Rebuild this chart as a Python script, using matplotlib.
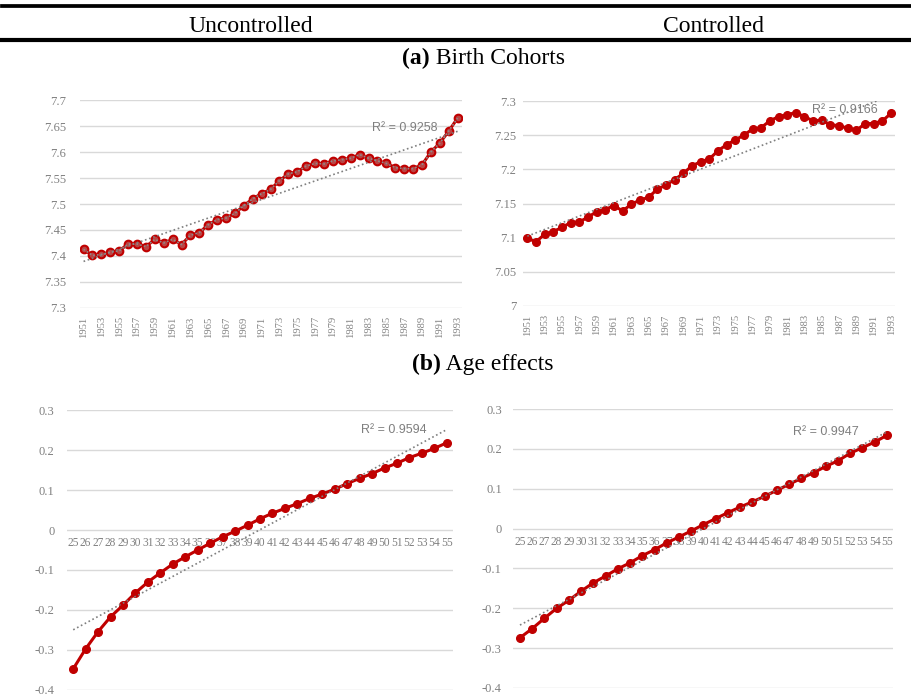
import matplotlib
matplotlib.use('Agg')
import matplotlib.pyplot as plt
import numpy as np
from matplotlib.lines import Line2D

# birth cohort effects
years = list(range(1951, 1994))
cohort_unc = [7.413, 7.401, 7.403, 7.407, 7.410, 7.423, 7.423, 7.418, 7.432, 7.425,
              7.432, 7.422, 7.440, 7.445, 7.460, 7.470, 7.473, 7.482, 7.497, 7.510,
              7.520, 7.528, 7.545, 7.558, 7.562, 7.573, 7.578, 7.577, 7.583, 7.585,
              7.588, 7.595, 7.588, 7.583, 7.578, 7.570, 7.568, 7.568, 7.575, 7.600,
              7.617, 7.640, 7.665]
cohort_con = [7.099, 7.094, 7.105, 7.109, 7.115, 7.122, 7.123, 7.130, 7.138, 7.141,
              7.147, 7.139, 7.149, 7.155, 7.159, 7.171, 7.177, 7.185, 7.194, 7.205,
              7.211, 7.215, 7.227, 7.236, 7.243, 7.250, 7.259, 7.261, 7.271, 7.277,
              7.280, 7.283, 7.277, 7.271, 7.272, 7.265, 7.264, 7.260, 7.257, 7.267,
              7.267, 7.271, 7.282]

# age effects
ages = list(range(25, 56))
age_unc = [-0.347, -0.297, -0.254, -0.217, -0.188, -0.157, -0.130, -0.107, -0.085, -0.067,
           -0.050, -0.033, -0.017, -0.003, 0.012, 0.028, 0.042, 0.054, 0.066, 0.079,
           0.090, 0.102, 0.116, 0.129, 0.141, 0.155, 0.167, 0.181, 0.192, 0.204, 0.218]
age_con = [-0.274, -0.251, -0.225, -0.200, -0.180, -0.157, -0.136, -0.119, -0.101, -0.086,
           -0.068, -0.053, -0.036, -0.021, -0.006, 0.010, 0.025, 0.040, 0.054, 0.067,
           0.081, 0.096, 0.111, 0.126, 0.140, 0.156, 0.170, 0.189, 0.203, 0.217, 0.234]

r2_labels = ['R² = 0.9258', 'R² = 0.9166', 'R² = 0.9594', 'R² = 0.9947']

W, H = 911, 698
fig = plt.figure(figsize=(W / 100, H / 100), dpi=100)

RED = '#C00000'
GRAY = '#808080'
SERIF = 'Liberation Serif'


def box(x0, y0, x1, y1):
    return [x0 / W, 1 - y1 / H, (x1 - x0) / W, (y1 - y0) / H]


def panel(rect, x, y, xlim, ylim, yticks, ylabels, ypad, r2, r2pos, years_axis, overlay=False):
    ax = fig.add_axes(box(*rect))
    x = np.array(x, dtype=float)
    y = np.array(y)
    # linear trend line
    k, b = np.polyfit(x, y, 1)
    ax.plot(x, k * x + b, color='#7f7f7f', lw=1.2, ls=(0, (1, 1.6)), zorder=4)
    if overlay:
        ax.plot(x, y, color=RED, lw=2.2, marker='o', ms=5.5, mfc='#b84545', mec=RED, mew=1.5, zorder=3)
        ax.plot(x, y, color='#8c8c8c', lw=1.2, ls=(0, (1, 1.3)), zorder=4)
    else:
        ax.plot(x, y, color=RED, lw=2.2, marker='o', ms=5.5, mfc=RED, mec=RED, zorder=3)
    ax.set_xlim(*xlim)
    ax.set_ylim(*ylim)
    ax.set_yticks(yticks)
    ax.set_yticklabels(ylabels, fontsize=9, color=GRAY, family=SERIF)
    ax.tick_params(axis='y', length=0, pad=ypad)
    ax.grid(axis='y', color='#d9d9d9', lw=1)
    ax.set_axisbelow(True)
    for s in ax.spines.values():
        s.set_visible(False)
    if years_axis:
        ax.set_xticks(x[::2])
        ax.set_xticklabels([str(int(v)) for v in x[::2]], rotation=90, fontsize=7.6,
                           color=GRAY, family=SERIF)
        ax.tick_params(axis='x', length=0, pad=6)
    else:
        ax.spines['bottom'].set_position(('data', 0))
        ax.set_xticks(x)
        ax.set_xticklabels([str(int(v)) for v in x], fontsize=8.3, color=GRAY, family=SERIF)
        ax.tick_params(axis='x', length=0, pad=5)
        for t in ax.get_xticklabels():
            t.set_zorder(5)
    ax.text(r2pos[0], r2pos[1], r2, ha='right', va='center', fontsize=9,
            color='#7f7f7f', family='Liberation Sans')
    return ax


panel((80, 100, 462, 308), years, cohort_unc, (1950.6, 1993.5), (7.3, 7.7),
      np.arange(7.3, 7.71, 0.05), ['7.3', '7.35', '7.4', '7.45', '7.5', '7.55', '7.6', '7.65', '7.7'],
      10, r2_labels[0], (1990.7, 7.646), True, overlay=True)
panel((523, 101, 895, 306), years, cohort_con, (1950.5, 1993.45), (7.0, 7.3),
      np.arange(7.0, 7.31, 0.05), ['7', '7.05', '7.1', '7.15', '7.2', '7.25', '7.3'],
      5, r2_labels[1], (1991.5, 7.287), True)
panel((67, 410, 453, 690), ages, age_unc, (24.5, 55.5), (-0.4, 0.3),
      np.arange(-0.4, 0.31, 0.1), ['-0.4', '-0.3', '-0.2', '-0.1', '0', '0.1', '0.2', '0.3'],
      9, r2_labels[2], (53.4, 0.25), False)
panel((513, 409, 893, 688), ages, age_con, (24.43, 55.5), (-0.4, 0.3),
      np.arange(-0.4, 0.31, 0.1), ['-0.4', '-0.3', '-0.2', '-0.1', '0', '0.1', '0.2', '0.3'],
      8, r2_labels[3], (52.7, 0.242), False)

# header rules and titles
fig.add_artist(Line2D([2 / W, 1], [1 - 5.5 / H, 1 - 5.5 / H], color='black', lw=2.7))
fig.add_artist(Line2D([2 / W, 1], [1 - 39.5 / H, 1 - 39.5 / H], color='black', lw=3.0))
fig.text(251 / W, 1 - 32 / H, 'Uncontrolled', ha='center', va='baseline', fontsize=17, family=SERIF)
fig.text(713 / W, 1 - 32 / H, 'Controlled', ha='center', va='baseline', fontsize=17, family=SERIF)
fig.text(430 / W, 1 - 64 / H, '(a)', ha='right', va='baseline', fontsize=17, family=SERIF, weight='bold')
fig.text(430 / W, 1 - 64 / H, ' Birth Cohorts', ha='left', va='baseline', fontsize=17, family=SERIF)
fig.text(441 / W, 1 - 370 / H, '(b)', ha='right', va='baseline', fontsize=17, family=SERIF, weight='bold')
fig.text(441 / W, 1 - 370 / H, ' Age effects', ha='left', va='baseline', fontsize=17, family=SERIF)

fig.savefig('out.png', dpi=100)
